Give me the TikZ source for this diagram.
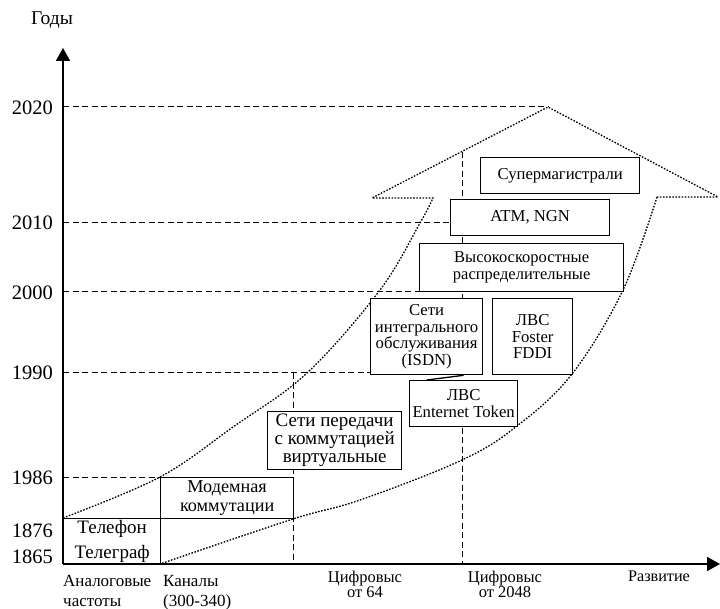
\documentclass[tikz,border=0pt]{standalone}
\usepackage{fontspec}
\setmainfont{Liberation Serif}
\usetikzlibrary{arrows.meta}
\newcommand{\fY}{\fontsize{20.5}{22}\selectfont}
\newcommand{\fB}{\fontsize{16.7}{16.5}\selectfont}
\newcommand{\fC}{\fontsize{16.5}{15}\selectfont}
\begin{document}
\begin{tikzpicture}[x=1pt,y=-1pt,
  box/.style={draw,line width=1.3pt,fill=white,inner sep=0pt,align=center,anchor=north west},
  grid/.style={line width=1pt,dash pattern=on 6pt off 3.5pt},
  dots/.style={line width=1.3pt,dash pattern=on 1.6pt off 1.5pt},
  axis/.style={line width=1.8pt,-{Triangle[length=13pt,width=14pt]}},
  year/.style={anchor=east,inner sep=0pt,font=\fY}
]
\useasboundingbox (0,0) rectangle (720,609);
% grid lines
\draw[grid] (63,107) -- (548,107);
\draw[grid] (63,223) -- (450,223);
\draw[grid] (63,292) -- (419,292);
\draw[grid] (63,373) -- (370,373);
\draw[grid] (63,477) -- (160,477);
\draw[grid] (293,373) -- (293,564);
\draw[grid] (462,152) -- (462,564);
% development arrow
\draw[dots] plot[smooth,tension=0.6] coordinates {(63,518) (160,477) (233,427) (307,373) (380,290) (420,223) (433,198)}
  -- (372,198) -- (548,107) -- (718,197) -- (657,197);
\draw[dots] plot[smooth,tension=0.6] coordinates {(657,197) (623,290) (572,374) (517,426) (462,460) (360,500) (293,519) (160,564)};
% boxes
\node[box,minimum width=97pt,minimum height=46pt,font=\fontsize{19}{25}\selectfont] (tel) at (63,518) {Телефон\\Телеграф};
\node[box,minimum width=133pt,minimum height=41pt,font=\fontsize{18.2}{18.5}\selectfont] (mod) at (160,477) {Модемная\\коммутации};
\node[box,minimum width=134pt,minimum height=58pt,font=\fontsize{19}{18}\selectfont] (vc) at (267,411) {Сети передачи\\с коммутацией\\виртуальные};
\node[box,minimum width=112pt,minimum height=76pt,font=\fB] (isdn) at (370,298) {Сети\\интегрального\\обслуживания\\(ISDN)};
\node[box,minimum width=80pt,minimum height=76pt,font=\fB] (fddi) at (492,298) {ЛВС\\Foster\\FDDI};
\node[box,minimum width=108pt,minimum height=46pt,font=\fB] (lan) at (409,380) {ЛВС\\Enternet Token};
\node[box,minimum width=204pt,minimum height=48pt,font=\fontsize{16.5}{17}\selectfont] (hs) at (419,243) {Высокоскоростные\\распределительные};
\node[box,minimum width=159pt,minimum height=36pt,font=\fB] (atm) at (450,199) {ATM, NGN};
\node[box,minimum width=159pt,minimum height=36pt,font=\fB] (sup) at (480,157) {Супермагистрали};
\draw[line width=1.3pt] (isdn.south -| lan.north) -- (lan.north -| isdn.south);
% axes
\draw[axis] (63,564) -- (63,48);
\draw[axis] (63,564) -- (720,564);
% labels
\node[font=\fontsize{19.5}{20}\selectfont] (gody) at (52,20) {Годы};
\node[year] (y2020) at (53,108) {2020};
\node[year] (y2010) at (53,223) {2010};
\node[year] (y2000) at (53,293) {2000};
\node[year] (y1990) at (53,373) {1990};
\node[year] (y1986) at (53,478) {1986};
\node[year] (y1876) at (53,531) {1876};
\node[year] (y1865) at (53,557) {1865};
\node[anchor=north west,inner sep=0pt,align=left,font=\fontsize{17}{20}\selectfont] (l1) at (63,575) {Аналоговые\\частоты};
\node[anchor=north west,inner sep=0pt,align=left,font=\fontsize{17}{20}\selectfont] (l2) at (163,575) {Каналы\\(300-340)};
\node[anchor=north,inner sep=0pt,align=center,font=\fC] (l3) at (365,571) {Цифровыс\\от 64};
\node[anchor=north,inner sep=0pt,align=center,font=\fC] (l4) at (505,571) {Цифровыс\\от 2048};
\node[anchor=north,inner sep=0pt,align=center,font=\fontsize{16.2}{15}\selectfont] (l5) at (659,571) {Развитие};
\end{tikzpicture}
\end{document}
